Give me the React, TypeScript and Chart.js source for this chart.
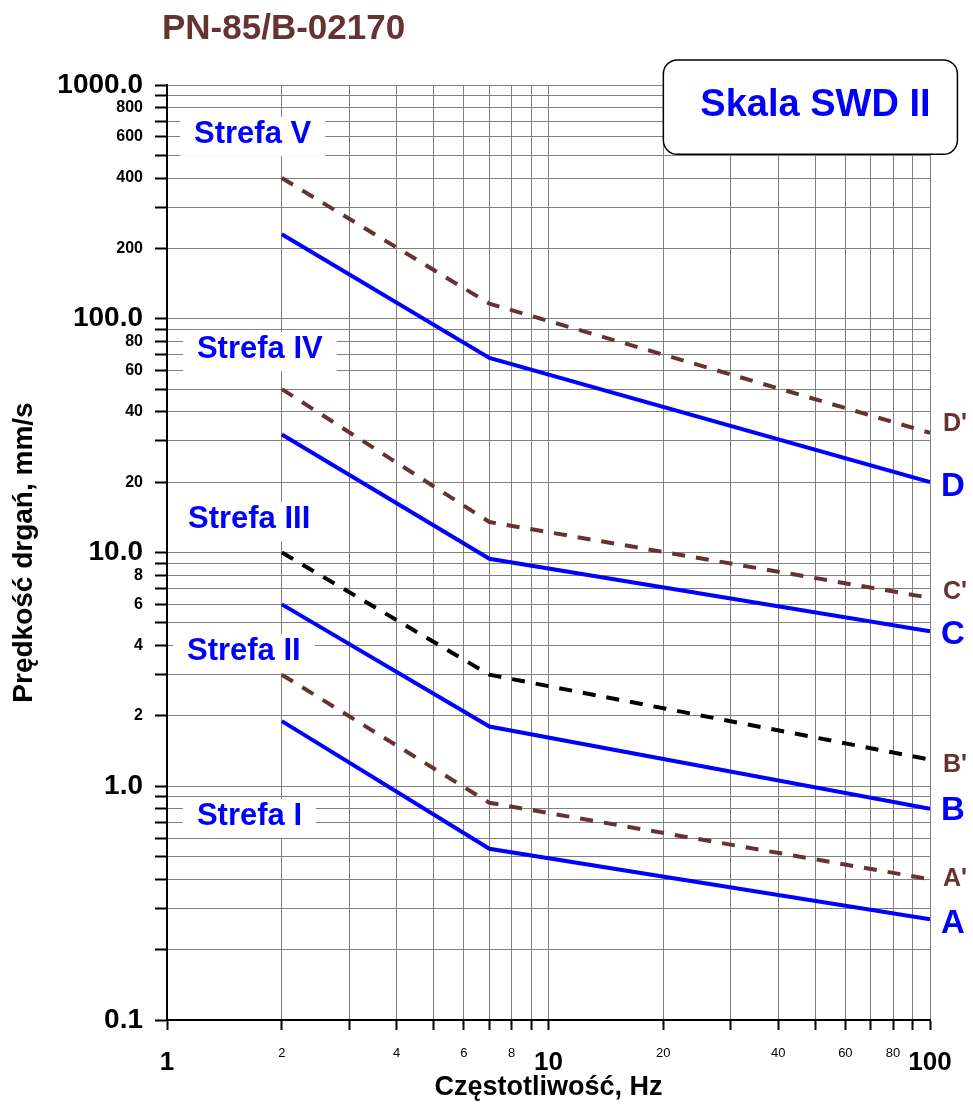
import React, { useEffect, useRef } from 'react';
import { Chart, registerables } from 'chart.js';

Chart.register(...registerables);

// ---- data ----
const frequencies = [2, 7, 100];
const seriesA = [1.9, 0.54, 0.27];
const seriesA2 = [3.0, 0.85, 0.4];
const seriesB = [6.0, 1.8, 0.8];
const seriesB2 = [10, 3.0, 1.3];
const seriesC = [32, 9.4, 4.6];
const seriesC2 = [50, 13.5, 6.4];
const seriesD = [230, 68, 20];
const seriesD2 = [400, 116, 32.5];

const xTickValues = [1, 2, 3, 4, 5, 6, 7, 8, 9, 10, 20, 30, 40, 50, 60, 70, 80, 90, 100];
const xTickLabels = ['1', '2', '', '4', '', '6', '', '8', '', '10', '20', '', '40', '', '60', '', '80', '', '100'];
const yTickValues = [
  0.1, 0.2, 0.3, 0.4, 0.5, 0.6, 0.7, 0.8, 0.9,
  1, 2, 3, 4, 5, 6, 7, 8, 9,
  10, 20, 30, 40, 50, 60, 70, 80, 90,
  100, 200, 300, 400, 500, 600, 700, 800, 900,
  1000,
];
const yTickLabels = [
  '0.1', '', '', '', '', '', '', '', '',
  '1.0', '2', '', '4', '', '6', '', '8', '',
  '10.0', '20', '', '40', '', '60', '', '80', '',
  '100.0', '200', '', '400', '', '600', '', '800', '',
  '1000.0',
];

const zoneLabels = ['Strefa V', 'Strefa IV', 'Strefa III', 'Strefa II', 'Strefa I'];
const zoneX = [1.177, 1.198, 1.135, 1.128, 1.198];
const zoneY = [565, 67.9, 12.7, 3.47, 0.683];

const curveNames = ["D'", 'D', "C'", 'C', "B'", 'B', "A'", 'A'];
const curveLabelY = [35.8, 19.3, 6.84, 4.48, 1.245, 0.79, 0.405, 0.26];

const chartTitle = 'PN-85/B-02170';
const scaleName = 'Skala SWD II';
const xTitle = 'Częstotliwość, Hz';
const yTitle = 'Prędkość drgań, mm/s';

// ---- styles ----
const FONT = "'Liberation Sans', Arial, Helvetica, sans-serif";
const BLUE = '#0000ff';
const BROWN = '#663333';
const GRID = '#808080';

const toPoints = (vals: number[]) => vals.map((v, i) => ({ x: frequencies[i], y: v }));

const annotationPlugin = {
  id: 'annotations',
  beforeDatasetsDraw(chart: any) {
    const { ctx, scales } = chart;
    const x = scales.x;
    const y = scales.y;
    ctx.save();
    // zone labels with white boxes
    ctx.font = `bold 31px ${FONT}`;
    ctx.textBaseline = 'alphabetic';
    ctx.textAlign = 'left';
    zoneLabels.forEach((t, i) => {
      const px = x.getPixelForValue(zoneX[i]);
      const py = y.getPixelForValue(zoneY[i]);
      const w = ctx.measureText(t).width;
      ctx.fillStyle = '#ffffff';
      ctx.fillRect(px - 14, py - 26, w + 28, 39);
      ctx.fillStyle = BLUE;
      ctx.fillText(t, px, py);
    });
    // scale name box
    const bx0 = x.getPixelForValue(20);
    const bx1 = x.getPixelForValue(118);
    const by0 = y.getPixelForValue(1280);
    const by1 = y.getPixelForValue(505);
    const r = 14;
    ctx.beginPath();
    ctx.moveTo(bx0 + r, by0);
    ctx.lineTo(bx1 - r, by0);
    ctx.arcTo(bx1, by0, bx1, by0 + r, r);
    ctx.lineTo(bx1, by1 - r);
    ctx.arcTo(bx1, by1, bx1 - r, by1, r);
    ctx.lineTo(bx0 + r, by1);
    ctx.arcTo(bx0, by1, bx0, by1 - r, r);
    ctx.lineTo(bx0, by0 + r);
    ctx.arcTo(bx0, by0, bx0 + r, by0, r);
    ctx.closePath();
    ctx.fillStyle = '#ffffff';
    ctx.fill();
    ctx.lineWidth = 1.5;
    ctx.strokeStyle = '#000000';
    ctx.stroke();
    ctx.font = `bold 38px ${FONT}`;
    ctx.fillStyle = BLUE;
    ctx.fillText(scaleName, x.getPixelForValue(25), y.getPixelForValue(737));
    ctx.restore();
  },
  afterDraw(chart: any) {
    const { ctx, scales, chartArea } = chart;
    const x = scales.x;
    const y = scales.y;
    ctx.save();
    ctx.textAlign = 'left';
    ctx.textBaseline = 'alphabetic';
    ctx.font = `bold 35px ${FONT}`;
    ctx.fillStyle = BROWN;
    ctx.fillText(chartTitle, chartArea.left - 5, 39);
    ctx.textBaseline = 'middle';
    const lx = x.getPixelForValue(100) + 11;
    curveNames.forEach((t, i) => {
      const primed = t.indexOf("'") >= 0;
      ctx.font = primed ? `bold 25px ${FONT}` : `bold 33px ${FONT}`;
      ctx.fillStyle = primed ? BROWN : BLUE;
      ctx.fillText(t, lx + (primed ? 2 : 0), y.getPixelForValue(curveLabelY[i]) + 1);
    });
    ctx.restore();
  },
};

export default function App() {
  const canvasRef = useRef<HTMLCanvasElement | null>(null);

  useEffect(() => {
    document.body.style.margin = '0';
    document.body.style.overflow = 'hidden';
    const canvas = canvasRef.current;
    if (!canvas) return;

    const solid = (data: number[]) => ({
      data: toPoints(data),
      borderColor: BLUE,
      borderWidth: 4,
      pointRadius: 0,
      fill: false,
      tension: 0,
    });
    const dashed = (data: number[], color: string) => ({
      data: toPoints(data),
      borderColor: color,
      borderWidth: 4,
      borderDash: [13, 11],
      pointRadius: 0,
      fill: false,
      tension: 0,
    });

    const chart = new Chart(canvas, {
      type: 'line',
      data: {
        datasets: [
          { label: 'A', ...solid(seriesA) },
          { label: "A'", ...dashed(seriesA2, BROWN) },
          { label: 'B', ...solid(seriesB) },
          { label: "B'", ...dashed(seriesB2, '#000000') },
          { label: 'C', ...solid(seriesC) },
          { label: "C'", ...dashed(seriesC2, BROWN) },
          { label: 'D', ...solid(seriesD) },
          { label: "D'", ...dashed(seriesD2, BROWN) },
        ] as any,
      },
      options: {
        animation: false,
        responsive: false,
        maintainAspectRatio: false,
        events: [],
        layout: { padding: { top: 85, right: 43, bottom: 0, left: 0 } },
        plugins: {
          legend: { display: false },
          tooltip: { enabled: false },
          title: { display: false },
        },
        scales: {
          x: {
            type: 'logarithmic',
            min: 1,
            max: 100,
            afterBuildTicks: (scale: any) => {
              scale.ticks = xTickValues.map((v) => ({ value: v }));
            },
            afterFit: (scale: any) => {
              scale.height = 88;
            },
            grid: {
              color: GRID,
              lineWidth: 1,
              drawTicks: true,
              tickLength: 10,
              tickColor: '#000000',
              tickWidth: 2,
            },
            border: { display: true, color: '#000000', width: 2 },
            ticks: {
              autoSkip: false,
              maxRotation: 0,
              minRotation: 0,
              padding: 18,
              color: '#000000',
              callback: (_v: any, i: number) => xTickLabels[i],
              font: (ctx: any) => {
                const v = ctx.tick ? ctx.tick.value : 1;
                const big = v === 1 || v === 10 || v === 100;
                return big
                  ? { family: FONT, size: 26, weight: 'bold', lineHeight: '30px' }
                  : { family: FONT, size: 13, weight: 'normal', lineHeight: '10px' };
              },
            },
            title: {
              display: true,
              text: xTitle,
              color: '#000000',
              font: { family: FONT, size: 27, weight: 'bold' },
              padding: { top: 0, bottom: 4 },
            },
          },
          y: {
            type: 'logarithmic',
            min: 0.1,
            max: 1000,
            afterBuildTicks: (scale: any) => {
              scale.ticks = yTickValues.map((v) => ({ value: v }));
            },
            afterFit: (scale: any) => {
              scale.width = 167;
            },
            grid: {
              color: GRID,
              lineWidth: 1,
              drawTicks: true,
              tickLength: 12,
              tickColor: '#000000',
              tickWidth: 2,
            },
            border: { display: true, color: '#000000', width: 2 },
            ticks: {
              autoSkip: false,
              padding: 12,
              color: '#000000',
              callback: (_v: any, i: number) => yTickLabels[i],
              font: (ctx: any) => {
                const i = ctx.index;
                const lbl = yTickLabels[i] || '';
                const big = lbl.indexOf('.') >= 0;
                return big
                  ? { family: FONT, size: 28, weight: 'bold' }
                  : { family: FONT, size: 16, weight: 'bold' };
              },
            },
            title: {
              display: true,
              text: yTitle,
              color: '#000000',
              font: { family: FONT, size: 28, weight: 'bold' },
              padding: { top: 7, bottom: 0 },
            },
          },
        },
      } as any,
      plugins: [annotationPlugin],
    });

    return () => {
      chart.destroy();
    };
  }, []);

  return (
    <div style={{ width: 973, height: 1108, background: '#ffffff' }}>
      <canvas ref={canvasRef} width={973} height={1108} style={{ display: 'block' }} />
    </div>
  );
}
